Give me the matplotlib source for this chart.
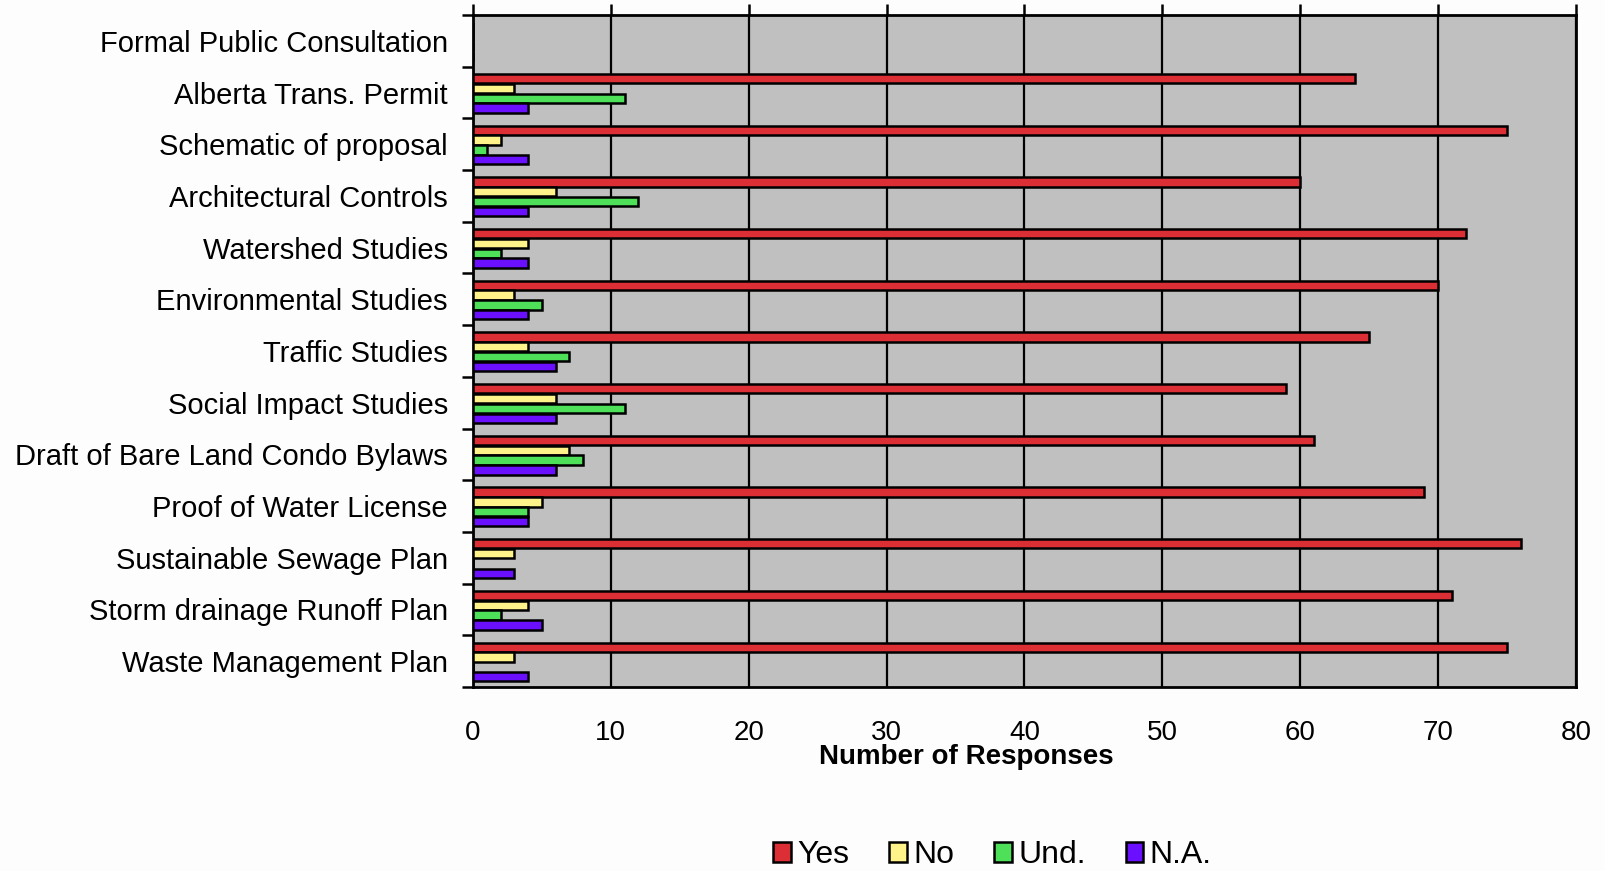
import matplotlib
matplotlib.use("Agg")
import matplotlib.pyplot as plt
from matplotlib.patches import Patch
import numpy as np

plt.rcParams["font.family"] = ["Liberation Sans", "DejaVu Sans"]

categories = [
    "Formal Public Consultation",
    "Alberta Trans. Permit",
    "Schematic of proposal",
    "Architectural Controls",
    "Watershed Studies",
    "Environmental Studies",
    "Traffic Studies",
    "Social Impact Studies",
    "Draft of Bare Land Condo Bylaws",
    "Proof of Water License",
    "Sustainable Sewage Plan",
    "Storm drainage Runoff Plan",
    "Waste Management Plan",
]
yes = [0, 64, 75, 60, 72, 70, 65, 59, 61, 69, 76, 71, 75]
no = [0, 3, 2, 6, 4, 3, 4, 6, 7, 5, 3, 4, 3]
und = [0, 11, 1, 12, 2, 5, 7, 11, 8, 4, 0, 2, 0]
na = [0, 4, 4, 4, 4, 4, 6, 6, 6, 4, 3, 5, 4]
series_names = ["Yes", "No", "Und.", "N.A."]
xticks = [0, 10, 20, 30, 40, 50, 60, 70, 80]

colors = ["#DC2F35", "#FFF38A", "#4FE05A", "#6A10FF"]
offsets = [-0.27, -0.08, 0.11, 0.30]

fig = plt.figure(figsize=(16.06, 8.71), dpi=100)
fig.patch.set_facecolor("#FDFDFD")
ax = fig.add_axes([0.2945, 0.2113, 0.6868, 0.7715])
ax.set_facecolor("#C0C0C0")

y = np.arange(len(categories))
for vals, col, off in zip([yes, no, und, na], colors, offsets):
    ax.barh(y + off, vals, height=0.18, color=col, edgecolor="black",
            linewidth=1.8, zorder=3)

ax.set_xlim(0, 80)
ax.set_ylim(len(categories) - 0.5, -0.5)
ax.set_xticks(xticks)
ax.set_xticklabels([str(t) for t in xticks], fontsize=20)
ax.tick_params(axis="x", top=True, bottom=False, labelbottom=True,
               direction="out", length=8, width=1.8, pad=16)
ax.grid(axis="x", color="black", linewidth=1.6, zorder=1)

ax.set_yticks(y)
ax.set_yticklabels(categories, fontsize=21)
ax.set_yticks(np.arange(-0.5, len(categories)), minor=True)
ax.tick_params(axis="y", which="major", length=0, pad=18)
ax.tick_params(axis="y", which="minor", length=8, width=1.8, direction="out")
for sp in ax.spines.values():
    sp.set_linewidth(2)
    sp.set_color("black")

fig.text(0.602, 0.131, "Number of Responses", ha="center", va="center",
         fontsize=20, fontweight="bold")

handles = [Patch(facecolor=c, edgecolor="black", linewidth=1.8) for c in colors]
fig.legend(handles, series_names, loc="center", bbox_to_anchor=(0.618, 0.018),
           ncol=4, frameon=False, fontsize=23, handlelength=0.55,
           handleheight=0.55, handletextpad=0.2, columnspacing=1.25)

fig.savefig("out.png", dpi=100, facecolor=fig.get_facecolor())
